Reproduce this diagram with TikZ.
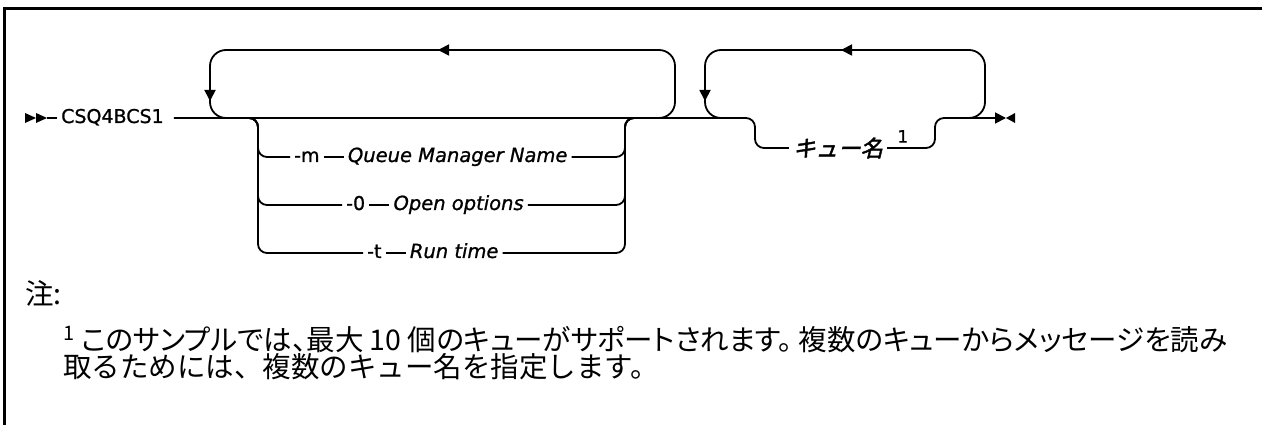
\documentclass[tikz,border=0pt]{standalone}
\usepackage{fontspec}
\setmainfont{DejaVu Sans}
\newfontfamily\railfont[FakeBold=1.0]{DejaVu Sans}
\newfontfamily\jpfont{Noto Sans CJK JP}
\newfontfamily\jppalt[RawFeature=+palt]{Noto Sans CJK JP}
\newfontfamily\jpslant[FakeSlant=0.25,FakeBold=2]{Noto Sans CJK JP}
\usetikzlibrary{arrows.meta,positioning}

\begin{document}
\begin{tikzpicture}[
    x=1pt, y=-1pt,
    rail/.style={draw=black, line width=1.8pt, rounded corners=9pt},
    loopback/.style={draw=black, line width=1.8pt, rounded corners=16pt},
    tip/.style={-{Triangle[length=11pt,width=11pt]}},
    frame/.style={draw=black, line width=3pt},
    kw/.style={
        inner sep=4pt,
        text height=14pt,
        text depth=4pt,
        font=\railfont\fontsize{19}{21}\selectfont
    },
    var/.style={
        inner sep=4pt,
        text height=14pt,
        text depth=4pt,
        font=\railfont\itshape\fontsize{19.5}{21}\selectfont
    },
    jpvar/.style={inner sep=4pt, font=\jpslant\fontsize{22.5}{24}\selectfont},
    sup/.style={inner sep=0pt, font=\railfont\fontsize{17}{18}\selectfont},
    note/.style={anchor=base west, inner sep=0pt, font=\jpfont\fontsize{28.5}{30}\selectfont}
]
\useasboundingbox (0,0) rectangle (1262,425);

% =========================================================
% Frame
% =========================================================
\draw[frame] (4,425) -- (4,8.5) -- (1262,8.5);

% =========================================================
% Main rail
% =========================================================
\fill (25,113) -- (36,118) -- (25,123) -- cycle;
\fill (36,113) -- (47,118) -- (36,123) -- cycle;
\coordinate (begin) at (47,118);
\node[kw, anchor=west] (cmd) at (57,118) {CSQ4BCS1};
\draw[rail] (begin) -- (cmd.west);

\coordinate (split) at (258,118);
\coordinate (join) at (625,118);
\coordinate (stop) at (1006,118);

% Options
\node[kw, anchor=west] (flagm) at (290,157) {-m};
\node[var, right=20pt of flagm] (varm) {Queue Manager Name};
\node[kw, anchor=west] (flago) at (342,205) {-0};
\node[var, right=20pt of flago] (varo) {Open options};
\node[kw, anchor=west] (flagt) at (363,253) {-t};
\node[var, right=20pt of flagt] (vart) {Run time};

% Queue name
\node[jpvar] (qname) at (838,148) {キュー名};
\node[sup, anchor=west] (qsup) at ([xshift=10pt,yshift=-3pt]qname.north east) {1};

% main line, down into the queue name
\draw[rail] ([xshift=6pt]cmd.east) -- (755,118) |- (qname.west);
\draw[rail, tip] (qname.east) -| (935,118) -- (stop);
\fill (1015,113) -- (stop) -- (1015,123) -- cycle;

% Branch rows
\draw[rail] ([xshift=-15pt]split) -- (split) |- (flagm.west);
\draw[rail] (flagm) -- (varm);
\draw[rail] (varm.east) -| (join) -- ([xshift=15pt]join);
\draw[rail] ([xshift=-15pt]split) -- (split) |- (flago.west);
\draw[rail] (flago) -- (varo);
\draw[rail] (varo.east) -| (join) -- ([xshift=15pt]join);
\draw[rail] ([xshift=-15pt]split) -- (split) |- (flagt.west);
\draw[rail] (flagt) -- (vart);
\draw[rail] (vart.east) -| (join) -- ([xshift=15pt]join);

% =========================================================
% Repeat loops
% =========================================================
\draw[loopback, tip] (655,118) -| (675,50) -- (438,50);
\draw[loopback, tip] (446,50) -| (210,101);
\draw[loopback] (210,95) |- (235,118);

\draw[loopback, tip] (965,118) -| (985,50) -- (841,50);
\draw[loopback, tip] (849,50) -| (705,101);
\draw[loopback] (705,95) |- (730,118);

% =========================================================
% Notes
% =========================================================
\node[note] (notehead) at (25,304) {注:};
\node[note, font=\jppalt\fontsize{28.5}{30}\selectfont] (foot1) at (63,350) {\textsuperscript{1} このサンプルでは、最大 10 個のキューがサポートされます。 複数のキューからメッセージを読み};
\node[note] (foot2) at (63,377) {取るためには、複数のキュー名を指定します。};

\end{tikzpicture}
\end{document}
